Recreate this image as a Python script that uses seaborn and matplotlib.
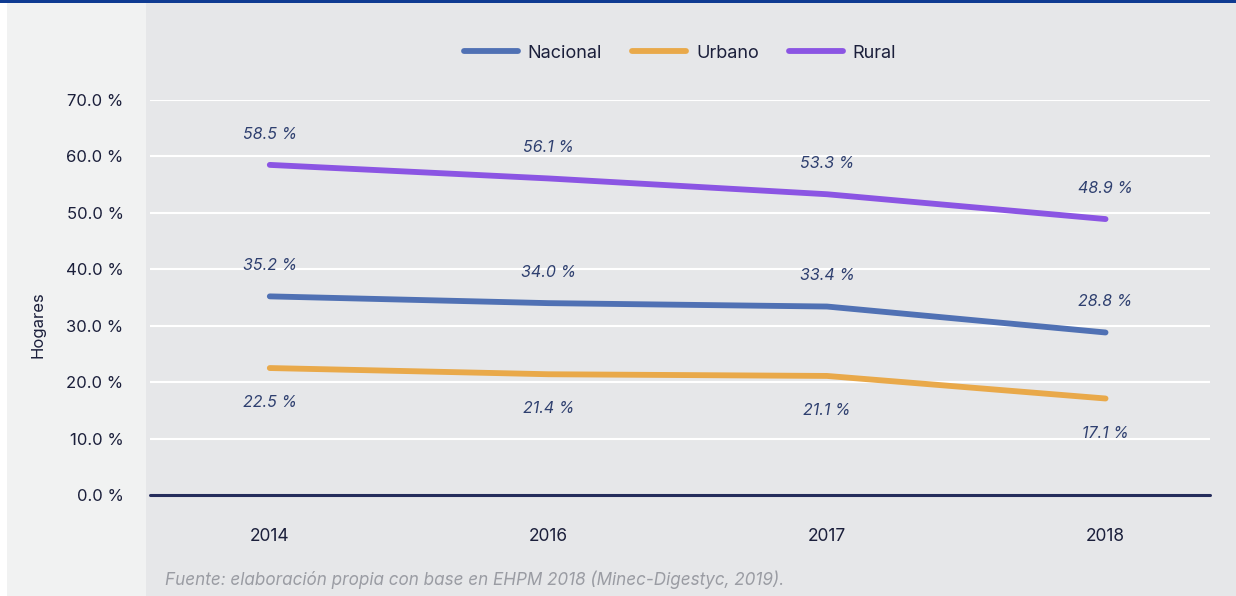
import matplotlib
matplotlib.use("Agg")
import matplotlib.pyplot as plt
from matplotlib.patches import Rectangle
from matplotlib.lines import Line2D
import seaborn as sns
import pandas as pd

years = ["2014", "2016", "2017", "2018"]
nacional = [35.2, 34.0, 33.4, 28.8]
urbano = [22.5, 21.4, 21.1, 17.1]
rural = [58.5, 56.1, 53.3, 48.9]
series_names = ["Nacional", "Urbano", "Rural"]
yticks = [0, 10, 20, 30, 40, 50, 60, 70]
ytick_labels = ["0.0 %", "10.0 %", "20.0 %", "30.0 %", "40.0 %", "50.0 %", "60.0 %", "70.0 %"]
source = "Fuente: elaboración propia con base en EHPM 2018 (Minec-Digestyc, 2019)."

colors = {"Nacional": "#5071b4", "Urbano": "#e9a94a", "Rural": "#8b55e3"}
label_offsets = {"Nacional": 22, "Urbano": -25, "Rural": 22}

sns.set_theme(style="white")
plt.rcParams["font.family"] = ["Inter", "DejaVu Sans"]

df = pd.DataFrame({
    "Año": years * 3,
    "Valor": nacional + urbano + rural,
    "Serie": ["Nacional"] * 4 + ["Urbano"] * 4 + ["Rural"] * 4,
})

W, H = 1236, 596
fig = plt.figure(figsize=(W / 100, H / 100), dpi=100)
fig.patch.set_facecolor("white")
# background panels
fig.patches.append(Rectangle((7 / W, 0), (146 - 7) / W, (H - 3) / H, transform=fig.transFigure,
                             facecolor="#f1f2f2", edgecolor="none", zorder=-5))
fig.patches.append(Rectangle((146 / W, 0), (W - 146) / W, (H - 3) / H, transform=fig.transFigure,
                             facecolor="#e6e7e9", edgecolor="none", zorder=-5))
fig.patches.append(Rectangle((0, (H - 3) / H), 1, 3 / H, transform=fig.transFigure,
                             facecolor="#0f3b92", edgecolor="none", zorder=-5))

ax = fig.add_axes([150 / W, (H - 495) / H, 1060 / W, 395 / H])
ax.set_zorder(5)
ax.set_facecolor("none")

sns.lineplot(data=df, x="Año", y="Valor", hue="Serie", hue_order=series_names,
             palette=colors, linewidth=4.2, ax=ax, legend=False, sort=False)
for ln in ax.lines:
    ln.set_solid_capstyle("round")
    ln.set_zorder(3)

ax.set_xlim(-0.43, 3.375)
ax.set_ylim(0, 70)
ax.set_yticks(yticks)
ax.set_yticklabels(ytick_labels)
for y in yticks[1:]:
    ax.axhline(y, color="white", linewidth=1.5, zorder=1)
ax.axhline(0, color="#252d5c", linewidth=2.2, zorder=2, clip_on=False)
for s in ax.spines.values():
    s.set_visible(False)
ax.tick_params(axis="y", length=0, pad=19, labelsize=12, labelcolor="#1b1f3b")
ax.tick_params(axis="x", length=0, pad=24, labelsize=12.5, labelcolor="#1b1f3b")
ax.set_xlabel("")
ax.set_ylabel("")

for name, vals in zip(series_names, [nacional, urbano, rural]):
    for i, v in enumerate(vals):
        ax.annotate(f"{v:.1f} %", (i, v), xytext=(0, label_offsets[name]),
                    textcoords="offset points", ha="center", va="center",
                    fontsize=11.5, style="italic", color="#2e3f6f")

handles = [Line2D([0], [0], color=colors[n], linewidth=4.2, solid_capstyle="round") for n in series_names]
fig.legend(handles, series_names, loc="center", bbox_to_anchor=(680 / W, 1 - 53 / H), ncol=3,
           frameon=False, fontsize=13, handlelength=3.0, columnspacing=1.65, handletextpad=0.55,
           labelcolor="#1b1f3b")

fig.text(38 / W, 1 - 325 / H, "Hogares", rotation=90, ha="center", va="center",
         fontsize=12, color="#1b1f3b")
fig.text(165 / W, 1 - 580 / H, source, ha="left", va="center", fontsize=12.3,
         style="italic", color="#9a9ca3")

fig.savefig("out.png", dpi=100)
